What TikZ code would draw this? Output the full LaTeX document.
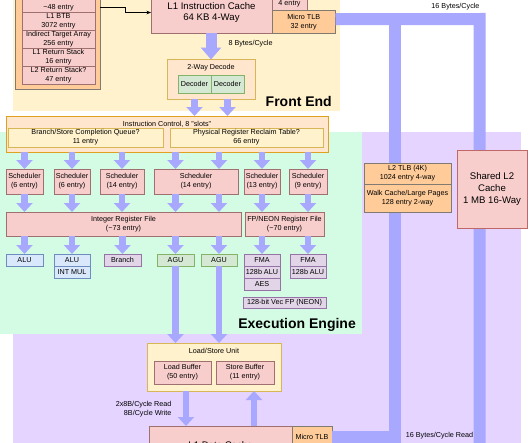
\documentclass[tikz,border=0pt]{standalone}
\usepackage{fontspec}
\setmainfont{Liberation Sans}
\usetikzlibrary{arrows.meta, positioning}

\definecolor{frontbg}{HTML}{FFF2CC}
\definecolor{execbg}{HTML}{D4FCE4}
\definecolor{membg}{HTML}{E4D4FF}
\definecolor{busblue}{HTML}{A8A8FF}
\definecolor{pinkfill}{HTML}{F8CECC}
\definecolor{pinkline}{HTML}{9E7070}
\definecolor{l2line}{HTML}{C06868}
\definecolor{tlbfill}{HTML}{FFCC99}
\definecolor{tlbline}{HTML}{807A70}
\definecolor{ctlfill}{HTML}{FFE6CC}
\definecolor{ctlline}{HTML}{E0A020}
\definecolor{qfill}{HTML}{FFF2CC}
\definecolor{qline}{HTML}{D6B656}
\definecolor{alufill}{HTML}{DAE8FC}
\definecolor{aluline}{HTML}{6C8EBF}
\definecolor{fpfill}{HTML}{E1D5E7}
\definecolor{fpline}{HTML}{9673A6}
\definecolor{agufill}{HTML}{D5E8D4}
\definecolor{aguline}{HTML}{82B366}

\begin{document}
\begin{tikzpicture}[
    x=1pt, y=-1pt,
    font=\fontsize{7.2}{9}\selectfont,
    node distance=0pt,
    box/.style={rectangle, draw, line width=0.7pt, inner sep=0pt, outer sep=0pt, align=center, anchor=north west},
    cachebox/.style={box, fill=pinkfill, draw=pinkline},
    tlbbox/.style={box, fill=tlbfill, draw=tlbline},
    ctlbox/.style={box, fill=ctlfill, draw=ctlline},
    qbox/.style={box, fill=qfill, draw=qline},
    alubox/.style={box, fill=alufill, draw=aluline, minimum height=12pt},
    fpbox/.style={box, fill=fpfill, draw=fpline, minimum height=12pt},
    agubox/.style={box, fill=agufill, draw=aguline, minimum height=12pt},
    bigtext/.style={font=\fontsize{9.6}{11.6}\selectfont},
    areatitle/.style={font=\fontsize{14}{16}\selectfont\bfseries, anchor=base east, inner sep=0pt},
    bus/.style={line width=12pt, draw=busblue, line join=miter},
    fat/.style={-{Triangle[length=9pt,width=16pt]}, line width=6.5pt, draw=busblue},
    wide/.style={-{Triangle[length=12pt,width=20pt]}, line width=11pt, draw=busblue},
    conn/.style={-{Stealth[length=4.5pt,width=3.5pt]}, line width=0.5pt}
  ]
    \useasboundingbox (0,0) rectangle (530,442);
    \clip (0,0) rectangle (530,442);

    % Background areas
    \fill[membg] (13,132) rectangle (521,470);
    \fill[execbg] (-5,132) rectangle (362,334);
    \fill[frontbg] (13,-10) rectangle (340,111);

    % Branch predictors
    \node[tlbbox, minimum width=85pt, minimum height=101pt] (btb) at (15,-12) {};
    \node[cachebox, minimum width=73pt, minimum height=18pt] (l0btb) at (22,-5.5) {L0 BTB\\\textasciitilde48 entry};
    \node[cachebox, minimum width=73pt, minimum height=18pt, below=of l0btb] (l1btb) {L1 BTB\\3072 entry};
    \node[cachebox, minimum width=73pt, minimum height=18pt, below=of l1btb] (ita) {Indirect Target Array\\256 entry};
    \node[cachebox, minimum width=73pt, minimum height=18pt, below=of ita] (l1ras) {L1 Return Stack\\16 entry};
    \node[cachebox, minimum width=73pt, minimum height=18pt, below=of l1ras] (l2ras) {L2 Return Stack?\\47 entry};

    % Instruction fetch
    \node[cachebox, bigtext, minimum width=121pt, minimum height=41pt] (icache) at (151,-8) {L1 Instruction Cache\\64 KB 4-Way};
    \node[cachebox, minimum width=35pt, minimum height=18pt] (l0itlb) at (272,-7.5) {\mbox{}\\4 entry};
    \node[tlbbox, minimum width=63.5pt, minimum height=22.5pt] (itlb) at (272,10.5) {Micro TLB\\32 entry};
    \draw[conn] ([yshift=-19pt]btb.north east) -- ++(25,0) |- (icache.west);

    % Decode
    \node[ctlbox, draw=qline, minimum width=88pt, minimum height=39.5pt] (decode) at (167,59.5) {};
    \node (dectitle) at (211,67.7) {2-Way Decode};
    \node[agubox, minimum width=33pt, minimum height=18pt] (dec1) at (178,75) {Decoder};
    \node[agubox, minimum width=33pt, minimum height=18pt, right=of dec1] (dec2) {Decoder};
    \draw[wide] (icache.south -| decode.north) -- (decode.north);
    \node[anchor=west] (fetchrate) at (225,44) {8 Bytes/Cycle};
    \node[areatitle] (fetitle) at (332,106) {Front End};

    % Instruction control
    \node[ctlbox, minimum width=322.5pt, minimum height=36pt] (ictrl) at (6,116) {};
    \node (ictitle) at (167,124) {Instruction Control, 8 "slots"};
    \node[qbox, minimum width=155pt, minimum height=19pt] (brq) at (8,128) {Branch/Store Completion Queue?\\11 entry};
    \node[qbox, minimum width=153pt, minimum height=19pt] (prrt) at (170,128) {Physical Register Reclaim Table?\\66 entry};
    \draw[fat] (dec1 |- decode.south) -- (dec1 |- ictrl.north);
    \draw[fat] (dec2 |- decode.south) -- (dec2 |- ictrl.north);

    % Schedulers
    \node[cachebox, minimum width=37pt, minimum height=25pt] (s1) at (6,169) {Scheduler\\(6 entry)};
    \node[cachebox, minimum width=36pt, minimum height=25pt] (s2) at (54,169) {Scheduler\\(6 entry)};
    \node[cachebox, minimum width=44pt, minimum height=25pt] (s3) at (100,169) {Scheduler\\(14 entry)};
    \node[cachebox, minimum width=84pt, minimum height=25pt] (s4) at (154,169) {Scheduler\\(14 entry)};
    \node[cachebox, minimum width=36pt, minimum height=25pt] (s5) at (244,169) {Scheduler\\(13 entry)};
    \node[cachebox, minimum width=38pt, minimum height=25pt] (s6) at (289,169) {Scheduler\\(9 entry)};

    % Register files
    \node[cachebox, minimum width=235pt, minimum height=24pt] (irf) at (6,212) {Integer Register File\\(\textasciitilde73 entry)};
    \node[cachebox, minimum width=79pt, minimum height=24pt] (frf) at (245,212) {FP/NEON Register File\\(\textasciitilde70 entry)};

    % Execution units
    \node[alubox, minimum width=37pt] (alu1) at (6,254) {ALU};
    \node[alubox, minimum width=36pt] (alu2) at (54,254) {ALU};
    \node[alubox, minimum width=36pt, below=of alu2] (imul) {INT MUL};
    \node[fpbox, minimum width=37pt] (br) at (104,254) {Branch};
    \node[agubox, minimum width=37pt] (agu1) at (157,254) {AGU};
    \node[agubox, minimum width=36pt] (agu2) at (201,254) {AGU};
    \node[fpbox, minimum width=36pt] (fma1) at (244,254) {FMA};
    \node[fpbox, minimum width=36pt, below=of fma1] (fpalu1) {128b ALU};
    \node[fpbox, minimum width=36pt, below=of fpalu1] (aes) {AES};
    \node[fpbox, minimum width=36pt] (fma2) at (290,254) {FMA};
    \node[fpbox, minimum width=36pt, below=of fma2] (fpalu2) {128b ALU};
    \node[fpbox, minimum width=83pt, minimum height=11pt] (neon) at (243,297) {128-bit Vec FP (NEON)};
    \node[areatitle] (eetitle) at (356,328.5) {Execution Engine};

    % Dispatch arrows
    \draw[fat] (ictrl.south -| s1) -- (s1.north);
    \draw[fat] (ictrl.south -| s2) -- (s2.north);
    \draw[fat] (ictrl.south -| s3) -- (s3.north);
    \draw[fat] (ictrl.south -| agu1) -- (s4.north -| agu1);
    \draw[fat] (ictrl.south -| agu2) -- (s4.north -| agu2);
    \draw[fat] (ictrl.south -| s5) -- (s5.north);
    \draw[fat] (ictrl.south -| s6) -- (s6.north);

    \draw[fat] (s1.south) -- (irf.north -| s1);
    \draw[fat] (s2.south) -- (irf.north -| s2);
    \draw[fat] (s3.south) -- (irf.north -| s3);
    \draw[fat] (s4.south -| agu1) -- (irf.north -| agu1);
    \draw[fat] (s4.south -| agu2) -- (irf.north -| agu2);
    \draw[fat] (s5.south) -- (frf.north -| s5);
    \draw[fat] (s6.south) -- (frf.north -| s6);

    \draw[fat] (irf.south -| alu1) -- (alu1.north);
    \draw[fat] (irf.south -| alu2) -- (alu2.north);
    \draw[fat] (irf.south -| br) -- (br.north);
    \draw[fat] (irf.south -| agu1) -- (agu1.north);
    \draw[fat] (irf.south -| agu2) -- (agu2.north);
    \draw[fat] (frf.south -| fma1) -- (fma1.north);
    \draw[fat] (frf.south -| fma2) -- (fma2.north);

    % Load/store
    \node[qbox, minimum width=134pt, minimum height=48pt] (lsu) at (147,343) {};
    \node (lsutitle) at (214,351) {Load/Store Unit};
    \node[cachebox, minimum width=57pt, minimum height=23pt] (ldbuf) at (154,361) {Load Buffer\\(50 entry)};
    \node[cachebox, minimum width=58pt, minimum height=23pt] (stbuf) at (216,361) {Store Buffer\\(11 entry)};
    \draw[fat] (agu1.south) -- (lsu.north -| agu1);
    \draw[fat] (agu2.south) -- (lsu.north -| agu2);

    % L1 data cache
    \node[cachebox, bigtext, minimum width=143pt, minimum height=38pt] (dcache) at (149,426) {L1 Data Cache};
    \node[tlbbox, minimum width=40pt, minimum height=22pt] (dtlb) at (292,426) {Micro TLB};
    \coordinate (ldport) at ([xshift=3.5pt]ldbuf.south);
    \coordinate (stport) at ([xshift=9pt]stbuf.south);
    \draw[fat] (ldport |- lsu.south) -- (ldport |- dcache.north);
    \draw[fat] (stport |- dcache.north) -- (stport |- lsu.south);
    \node[anchor=east, align=right] (ldrate) at (175,409) {2x8B/Cycle Read\\8B/Cycle Write};

    % Buses to L2
    \coordinate (busl) at (394.5,19);
    \coordinate (busr) at (479.5,19);
    \coordinate (busend) at (479.5,470);
    \draw[bus] ([yshift=2.5pt]itlb.east) -- (busr) -- (busend);
    \draw[bus] (busl) -- (busl |- dtlb.east) -- (dtlb.east);
    \node[anchor=east] (busrate) at (483,6.5) {16 Bytes/Cycle};
    \node (dbusrate) at (439.5,436) {16 Bytes/Cycle Read};

    % L2 TLB and L2 cache
    \node[tlbbox, minimum width=87pt, minimum height=21pt] (l2tlb) at (364,163) {L2 TLB (4K)\\1024 entry 4-way};
    \node[tlbbox, minimum width=87pt, minimum height=28pt, below=of l2tlb] (walk) {Walk Cache/Large Pages\\128 entry 2-way};
    \node[cachebox, bigtext, draw=l2line, minimum width=70pt, minimum height=78pt] (l2) at (457,150) {Shared L2\\Cache\\1 MB 16-Way};
\end{tikzpicture}
\end{document}
